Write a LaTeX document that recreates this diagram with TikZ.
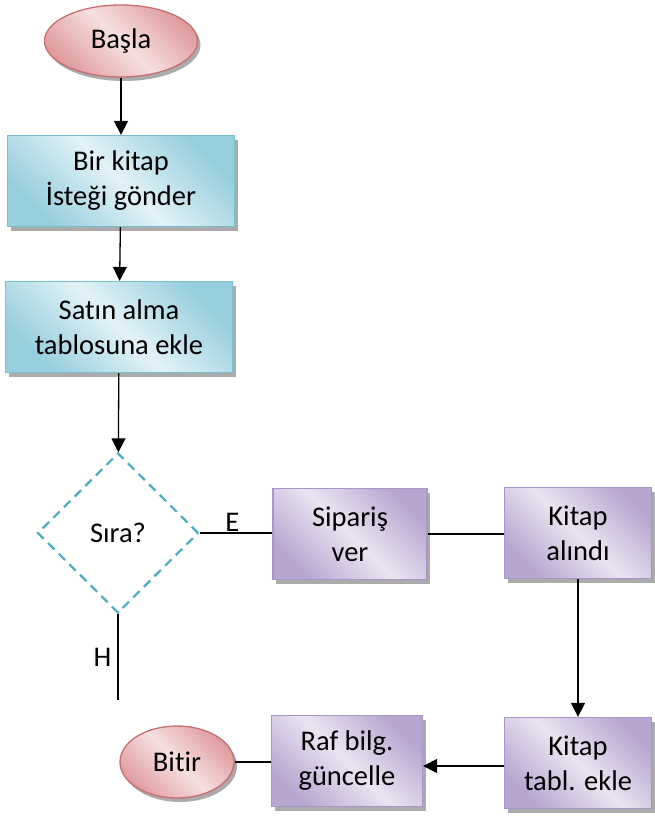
\documentclass[tikz,border=0pt]{standalone}
\usepackage{fontspec}
\setmainfont{Carlito}[Ligatures=NoCommon]
\usetikzlibrary{shapes.geometric,arrows.meta,shadows}

\definecolor{pinkL}{RGB}{246,224,224}
\definecolor{pinkD}{RGB}{224,156,158}
\definecolor{pinkB}{RGB}{200,110,112}
\definecolor{cyanL}{RGB}{226,242,247}
\definecolor{cyanD}{RGB}{150,206,220}
\definecolor{cyanB}{RGB}{120,192,210}
\definecolor{purL}{RGB}{234,228,241}
\definecolor{purD}{RGB}{184,166,208}
\definecolor{purB}{RGB}{168,150,200}
\definecolor{dashC}{RGB}{75,172,198}
\definecolor{shadowC}{RGB}{150,150,150}

\tikzset{
  txt/.style={font=\fontsize{28.5}{35}\selectfont, align=center, text=black},
  shadowed/.style={drop shadow={shadow xshift=3pt, shadow yshift=-4pt, fill=shadowC, opacity=0.8}},
  terminal/.style={txt, ellipse, shadowed, draw=pinkB, line width=1.3pt,
    top color=pinkD, bottom color=pinkD, middle color=pinkL, shading angle=-45, inner sep=0pt},
  cyanbox/.style={txt, rectangle, shadowed, draw=cyanB, line width=1.3pt,
    top color=cyanD, bottom color=cyanD, middle color=cyanL, shading angle=-45,
    minimum width=227pt, minimum height=91pt, inner sep=0pt},
  purbox/.style={txt, rectangle, shadowed, draw=purB, line width=1.3pt,
    top color=purD, bottom color=purD, middle color=purL, shading angle=-45,
    minimum height=91pt, inner sep=0pt},
  decision/.style={txt, diamond, draw=dashC, line width=2.2pt, dash pattern=on 9pt off 6pt,
    minimum width=161pt, minimum height=160pt, inner sep=0pt},
  arrowline/.style={line width=1.3pt, -{Triangle[width=14pt,length=14pt]}},
  plainline/.style={line width=1.3pt},
  lbl/.style={font=\fontsize{28.5}{32}\selectfont, text=black}
}

\begin{document}
\begin{tikzpicture}[x=1pt,y=-1pt]
  \useasboundingbox (0,0) rectangle (654,816);

  % process nodes
  \node[terminal, minimum width=153pt, minimum height=72pt] (start) at (121,41) {Başla};
  \node[cyanbox] (req) at (121,181) {Bir kitap\\İsteği gönder};
  \node[cyanbox] (add) at (119,327) {Satın alma\\tablosuna ekle};
  \node[decision] (dec) at (118,533) {Sıra?};
  \node[purbox, minimum width=154pt] (order) at (350,534) {Sipariş\\ver};
  \node[purbox, minimum width=147pt] (recv) at (578,533) {Kitap\\alındı};
  \node[purbox, minimum width=147pt] (tabl) at (578,763) {Kitap\\tabl. ekle};
  \node[purbox, minimum width=151pt] (shelf) at (347,761) {Raf bilg.\\güncelle};
  \node[terminal, minimum width=114pt, minimum height=72pt] (stop) at (177,762) {Bitir};
  \coordinate (hend) at (118,700);

  % connectors
  \draw[arrowline] (start) -- (req);
  \draw[arrowline] (req) -- (add);
  \draw[arrowline] (add) -- (dec);
  \draw[plainline] (dec.east) -- node[lbl, above, pos=0.45, inner sep=1pt] (elbl) {E} (order.west |- dec.east);
  \draw[plainline] (order.east) -- (recv.west |- order.east);
  \draw[arrowline] (recv) -- (tabl);
  \draw[arrowline] (tabl.west) ++(0,3) coordinate (tw) -- (tw -| shelf.east);
  \draw[plainline] (stop.east) -- (shelf.west |- stop.east);
  \draw[plainline] (dec.south) -- node[lbl, left, pos=0.5, inner sep=6pt] (hlbl) {H} (hend);
\end{tikzpicture}
\end{document}
